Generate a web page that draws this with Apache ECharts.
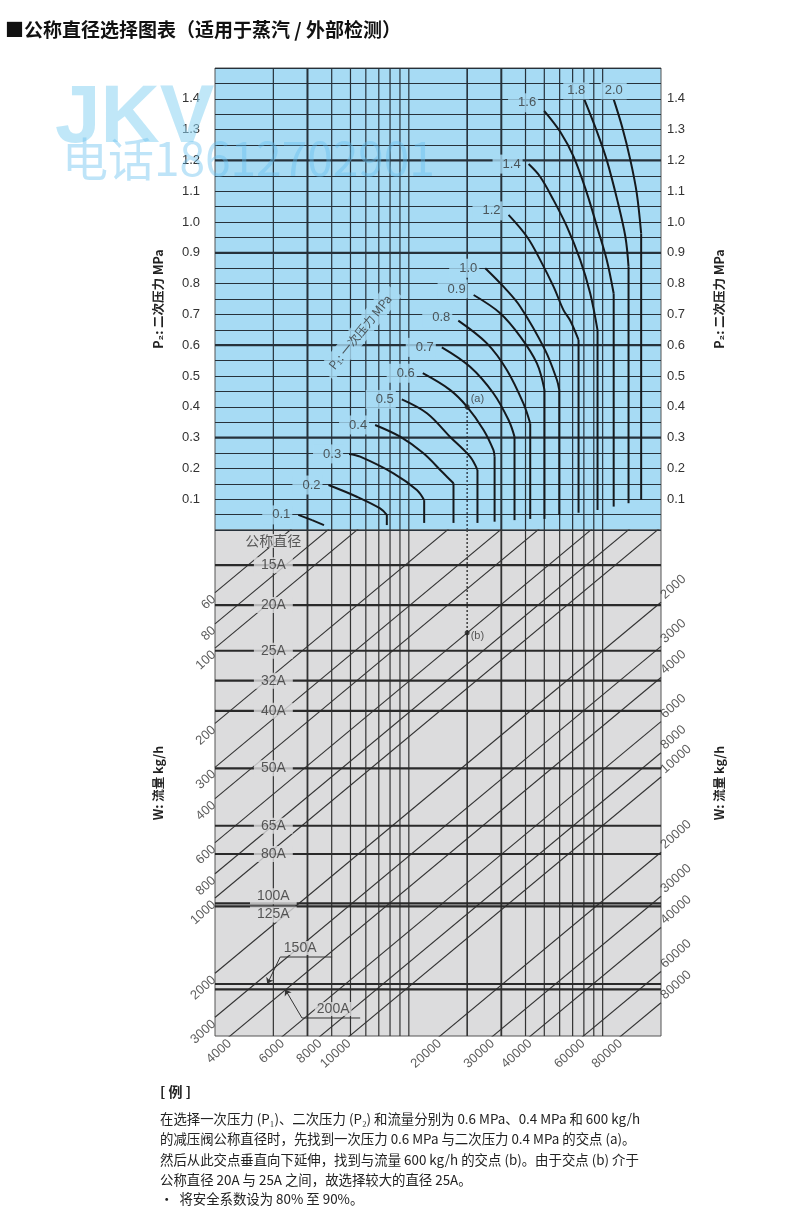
<!DOCTYPE html>
<html><head><meta charset="utf-8">
<script src="https://cdn.jsdelivr.net/npm/echarts@6/dist/echarts.min.js"></script>
<style>html,body{margin:0;padding:0;background:#fff}#c{width:800px;height:1216px}</style>
</head><body><div id="c"></div>
<script>
// ---------------- data ----------------
// x: flow-factor (log scale), upper y: P2 secondary pressure (MPa)
const kGridLines = [2,3,4,5,6,7,8,9,10,30,40,50,60,70,80,90,100];
const kThick = [3,30];
const p2TickLabels = [0.1,0.2,0.3,0.4,0.5,0.6,0.7,0.8,0.9,1.0,1.1,1.2,1.3,1.4];
const p2ThickLines = [0.3,0.6,0.9,1.2];

// P1 (primary pressure) curves: [flow-factor, P2]
const p1Labels = ['0.1','0.2','0.3','0.4','0.5','0.6','0.7','0.8','0.9','1.0','1.2','1.4','1.6','1.8','2.0'];
const curveP1_01 = [[2.69,0.049],[3.17,0.032],[3.65,0.016]];
const curveP1_02 = [[3.85,0.146],[5.39,0.108],[7.11,0.070],[7.70,0.049],[7.70,0.016]];
const curveP1_03 = [[4.92,0.247],[5.61,0.238],[8.33,0.184],[11.0,0.130],[12.0,0.097],[12.0,0.023]];
const curveP1_04 = [[6.70,0.341],[9.02,0.303],[11.9,0.249],[15.1,0.184],[17.0,0.152],[17.0,0.023]];
const curveP1_05 = [[9.20,0.424],[12.4,0.379],[16.3,0.303],[20.7,0.238],[22.6,0.195],[22.6,0.023]];
const curveP1_06 = [[11.8,0.509],[16.3,0.455],[20,0.400],[24.3,0.325],[27.3,0.260],[27.7,0.238],[27.7,0.027]];
const curveP1_07 = [[14.8,0.593],[20.7,0.530],[27.3,0.444],[32.7,0.357],[35.1,0.303],[35.1,0.032]];
const curveP1_08 = [[18.0,0.680],[25.3,0.606],[32.1,0.519],[39.0,0.411],[42.3,0.346],[42.3,0.036]];
const curveP1_09 = [[21.6,0.763],[29.6,0.704],[37.6,0.628],[45.8,0.541],[50.1,0.455],[50.1,0.036]];
const curveP1_10 = [[24.8,0.850],[30.8,0.790],[37.6,0.725],[50.5,0.584],[58.1,0.487],[59.7,0.455],[59.7,0.049]];
const curveP1_12 = [[32.7,1.023],[40.7,0.952],[47.6,0.877],[55.8,0.790],[62.8,0.714],[68.0,0.680],[75.1,0.617],[75.1,0.056]];
const curveP1_14 = [[41.5,1.188],[47.6,1.147],[55.8,1.071],[65.4,0.985],[76.6,0.877],[86.3,0.768],[94.1,0.649],[94.1,0.065]];
const curveP1_16 = [[49.9,1.361],[60.4,1.293],[70.8,1.212],[83.0,1.093],[93.5,0.985],[105,0.877],[114,0.768],[114,0.076]];
const curveP1_18 = [[80.4,1.398],[93.5,1.293],[105,1.201],[119,1.071],[131,0.952],[136,0.855],[136,0.087]];
const curveP1_20 = [[114,1.398],[126,1.309],[139,1.201],[150,1.093],[158,0.963],[158,0.097]];
const p1Curves = [curveP1_01,curveP1_02,curveP1_03,curveP1_04,curveP1_05,curveP1_06,curveP1_07,curveP1_08,
                  curveP1_09,curveP1_10,curveP1_12,curveP1_14,curveP1_16,curveP1_18,curveP1_20];
const p1AxisTitlePos = [5.61, 0.643];

// lower part: flow W (kg/h) diagonals, nominal diameters
const flowLines = [60,80,100,200,300,400,600,800,1000,2000,3000,4000,6000,8000,10000,20000,30000,40000,60000,80000];
const flowLeftLabels = [60,80,100,200,300,400,600,800,1000,2000,3000];
const flowBottomLabels = [4000,6000,8000,10000,20000,30000,40000,60000,80000];
const flowRightLabels = [2000,3000,4000,6000,8000,10000,20000,30000,40000,60000,80000];
const sizeNames = ['15A','20A','25A','32A','40A','50A','65A','80A','100A','125A','150A','200A'];
const sizeCapacity = [46.6,67.3,102.5,135.1,178.2,302.8,513.8,666.8,1050,1081,2208,2319];
const sizeHeaderPos = [2, 37.3];
const leader150 = [[4.02,1722],[2.17,1722],[1.86,2208]];
const leader200 = [[5.61,3020],[2.81,3020],[2.30,2319]];
const label150Pos = [2.75,1585];
const label200Pos = [4.07,2780];

// worked example
const exampleK = 20, exampleP2 = 0.4, exampleW = 600;

// axis ranges
const K_MIN = 1, K_MAX = 200;
const WL_MIN = 33.7, WL_MAX = 3565;
const FLOW_EXP = 0.645;

// ---------------- chart ----------------
const BLUE = '#a7dbf4', GRAY = '#dcdcdd', LINE = '#26313a';
const FONT = '"Liberation Sans", "Noto Sans CJK SC", sans-serif';
const CJK = '"Noto Sans CJK SC", "Liberation Sans", sans-serif';
function wLeft(W, K) { return W / Math.pow(K, FLOW_EXP); }

const series = [];
function addLine(xi, yi, pts, style, extra) {
  series.push(Object.assign({type:'line', xAxisIndex:xi, yAxisIndex:yi, data:pts, symbol:'none',
    silent:true, animation:false, clip:true, z:3, lineStyle:Object.assign({color:LINE,width:1.2}, style)}, extra||{}));
}
// upper vertical grid lines
kGridLines.forEach(k => addLine(0,0,[[k,0],[k,1.5]],{width:kThick.includes(k)?2:1.2}));
addLine(0,0,[[exampleK,exampleP2],[exampleK,1.5]],{width:1.6});
addLine(0,0,[[exampleK,0],[exampleK,exampleP2]],{width:1.6,type:[2,2],color:'#3a4a5a'});
// thick horizontal lines
p2ThickLines.forEach(v => addLine(0,0,[[K_MIN,v],[K_MAX,v]],{width:2.2}));
// P1 curves
p1Curves.forEach(c => {
  const n = c.length;
  addLine(0,0,c.slice(0,n-1),{width:2,color:'#15191d'},{smooth:0.35,z:5});
  addLine(0,0,c.slice(n-2),{width:2,color:'#15191d'},{z:5});
});
// lower vertical lines
kGridLines.forEach(k => addLine(1,2,[[k,WL_MIN],[k,WL_MAX]],{width:kThick.includes(k)?1.8:1.2,color:'#333'}));
const bY = wLeft(exampleW, exampleK);
addLine(1,2,[[exampleK,WL_MIN],[exampleK,bY]],{width:1.6,type:[2,2],color:'#444'});
addLine(1,2,[[exampleK,bY],[exampleK,WL_MAX]],{width:1.6,color:'#333'});
// diagonals (flow)
flowLines.forEach(W => addLine(1,2,[[K_MIN,wLeft(W,K_MIN)],[K_MAX,wLeft(W,K_MAX)]],{width:1.1,color:'#333'}));
// nominal diameter lines
sizeCapacity.forEach(c => addLine(1,2,[[K_MIN,c],[K_MAX,c]],{width:2.2,color:'#2a2a2a'},{z:4}));
// leaders (underline + arrow)
addLine(1,2,leader150.slice(0,2),{width:1,color:'#333'},{z:12});
addLine(1,2,leader200.slice(0,2),{width:1,color:'#333'},{z:12});
series.push({type:'lines', coordinateSystem:'cartesian2d', xAxisIndex:1, yAxisIndex:2, silent:true, z:12,
  symbol:['none','arrow'], symbolSize:6, lineStyle:{color:'#333', width:1, opacity:1},
  data:[{coords:leader150.slice(1)},{coords:leader200.slice(1)}]});

// P1 labels
const p1LabelTweaks = {'1.8':{position:'top',offset:[-8,6],padding:[2,4]}, '2.0':{position:'top',offset:[0,6],padding:[2,4]},
  '1.6':{offset:[0,-8]}, '0.9':{offset:[0,-6]}, '1.2':{offset:[0,-4]}, '0.8':{offset:[0,-3]}};
series.push({type:'scatter', xAxisIndex:0, yAxisIndex:0, z:10, silent:true, symbolSize:0, clip:false,
  data:p1Labels.map((n,i)=>({value:p1Curves[i][0], name:n, label:p1LabelTweaks[n]||{}})),
  label:{show:true, formatter:'{b}', position:'left', distance:6, fontSize:13, fontFamily:FONT, color:'#333',
    backgroundColor:BLUE, padding:[3,2,3,10]}});
series.push({type:'scatter', xAxisIndex:0, yAxisIndex:0, z:10, silent:true, symbolSize:0, clip:false,
  data:[{value:p1AxisTitlePos, name:'P₁: 一次压力 MPa'}],
  label:{show:true, formatter:'{b}', position:'inside', rotate:51, fontSize:12, fontFamily:CJK, color:'#333',
    backgroundColor:BLUE, padding:[4,8]}});
// example points
series.push({type:'scatter', xAxisIndex:0, yAxisIndex:0, z:11, silent:true, symbolSize:5, clip:false,
  itemStyle:{color:'#222'}, data:[{value:[exampleK,exampleP2], name:'(a)'}],
  label:{show:true, formatter:'{b}', position:'right', distance:1, offset:[0,-8], fontSize:11, fontFamily:FONT, color:'#333'}});
series.push({type:'scatter', xAxisIndex:1, yAxisIndex:2, z:11, silent:true, symbolSize:5, clip:false,
  itemStyle:{color:'#222'}, data:[{value:[exampleK,bY], name:'(b)'}],
  label:{show:true, formatter:'{b}', position:'right', distance:1, offset:[0,3], fontSize:11, fontFamily:FONT, color:'#333'}});

// diameter labels
const sizeTweaks = {'100A':{offset:[0,-7]}, '125A':{offset:[0,8]}};
const sizeLabelData = [];
sizeNames.forEach((n,i) => {
  if (n === '150A' || n === '200A') return;
  sizeLabelData.push({value:[2,sizeCapacity[i]], name:n, label:sizeTweaks[n]||{}});
});
sizeLabelData.push({value:sizeHeaderPos, name:'公称直径', label:{fontFamily:CJK, padding:[0,3]}});
sizeLabelData.push({value:label150Pos, name:'150A', label:{padding:[0,2]}});
sizeLabelData.push({value:label200Pos, name:'200A', label:{padding:[0,2]}});
series.push({type:'scatter', xAxisIndex:1, yAxisIndex:2, z:10, silent:true, symbolSize:0, clip:false,
  data:sizeLabelData,
  label:{show:true, formatter:'{b}', position:'inside', fontSize:14, fontFamily:FONT, color:'#333',
    backgroundColor:GRAY, padding:[1,7]}});

// flow labels
const flowLabelStyle = {show:true, formatter:'{b}', position:'inside', verticalAlign:'middle', rotate:42,
  fontSize:13, fontFamily:FONT, color:'#333'};
series.push({type:'scatter', xAxisIndex:1, yAxisIndex:2, z:10, silent:true, symbolSize:0, clip:false,
  data:flowLeftLabels.map(W=>({value:[K_MIN,wLeft(W,K_MIN)], name:String(W)})),
  label:Object.assign({}, flowLabelStyle, {align:'right', offset:[-4,3]})});
series.push({type:'scatter', xAxisIndex:1, yAxisIndex:2, z:10, silent:true, symbolSize:0, clip:false,
  data:flowBottomLabels.map(W=>({value:[Math.pow(W/WL_MAX,1/FLOW_EXP),WL_MAX], name:String(W)})),
  label:Object.assign({}, flowLabelStyle, {align:'right', offset:[-4,4]})});
series.push({type:'scatter', xAxisIndex:1, yAxisIndex:2, z:10, silent:true, symbolSize:0, clip:false,
  data:flowRightLabels.map(W=>({value:[K_MAX,wLeft(W,K_MAX)], name:String(W)})),
  label:Object.assign({}, flowLabelStyle, {align:'left', offset:[5,-3]})});

function p2Label(v) {
  const t = p2TickLabels.find(x => Math.abs(x - v) < 1e-6);
  return t === undefined ? '' : t.toFixed(1);
}
const nameStyle = {fontSize:12.5, fontWeight:'bold', color:'#222', fontFamily:CJK};
const NOTE_FONT = '13.4px "Noto Sans CJK SC"';

const option = {
  animation:false,
  backgroundColor:'#fff',
  grid:[
    {left:215, right:139, top:68, height:462, show:true, backgroundColor:BLUE, borderColor:'#555', borderWidth:1},
    {left:215, right:139, top:530, height:506, show:true, backgroundColor:GRAY, borderColor:'#555', borderWidth:1}
  ],
  xAxis:[
    {gridIndex:0, type:'log', logBase:10, min:K_MIN, max:K_MAX, show:false},
    {gridIndex:1, type:'log', logBase:10, min:K_MIN, max:K_MAX, show:false}
  ],
  yAxis:[
    {gridIndex:0, type:'value', min:0, max:1.5, interval:0.05, position:'left',
      axisLine:{show:false}, axisTick:{show:false},
      axisLabel:{margin:15, fontSize:13, color:'#333', fontFamily:FONT, formatter:p2Label},
      splitLine:{show:true, lineStyle:{color:LINE, width:1.2}},
      name:'P₂: 二次压力 MPa', nameLocation:'middle', nameGap:50, nameRotate:90, nameTextStyle:nameStyle},
    {gridIndex:0, type:'value', min:0, max:1.5, interval:0.05, position:'right',
      axisLine:{show:false}, axisTick:{show:false},
      axisLabel:{margin:6, fontSize:13, color:'#333', fontFamily:FONT, formatter:p2Label},
      splitLine:{show:false},
      name:'P₂: 二次压力 MPa', nameLocation:'middle', nameGap:52, nameRotate:90, nameTextStyle:nameStyle},
    {gridIndex:1, type:'log', logBase:10, min:WL_MIN, max:WL_MAX, inverse:true, position:'left',
      axisLine:{show:false}, axisTick:{show:false}, axisLabel:{show:false}, splitLine:{show:false},
      name:'W: 流量 kg/h', nameLocation:'middle', nameGap:50, nameRotate:90, nameTextStyle:nameStyle},
    {gridIndex:1, type:'log', logBase:10, min:WL_MIN, max:WL_MAX, inverse:true, position:'right',
      axisLine:{show:false}, axisTick:{show:false}, axisLabel:{show:false}, splitLine:{show:false},
      name:'W: 流量 kg/h', nameLocation:'middle', nameGap:52, nameRotate:90, nameTextStyle:nameStyle}
  ],
  graphic:[
    {type:'text', left:5, top:20, z:100, style:{text:'■公称直径选择图表（适用于蒸汽 / 外部检测）', font:'bold 19px "Noto Sans CJK SC"', fill:'#111'}},
    {type:'text', left:55, top:78, z:100, silent:true, style:{text:'JKV', font:'bold 82px "Liberation Sans"', fill:'rgba(140,212,242,0.55)'}},
    {type:'text', left:62, top:136, z:100, silent:true, style:{text:'电话18612702901', font:'46px "Noto Sans CJK SC"', fill:'rgba(100,190,238,0.42)'}},
    {type:'text', left:160, top:1085, style:{text:'[ 例 ]', font:'bold 14px "Noto Sans CJK SC"', fill:'#222'}},
    {type:'text', left:160, top:1112, style:{text:'在选择一次压力 (P₁)、二次压力 (P₂) 和流量分别为 0.6 MPa、0.4 MPa 和 600 kg/h', font:NOTE_FONT, fill:'#222'}},
    {type:'text', left:160, top:1132, style:{text:'的减压阀公称直径时，先找到一次压力 0.6 MPa 与二次压力 0.4 MPa 的交点 (a)。', font:NOTE_FONT, fill:'#222'}},
    {type:'text', left:160, top:1153, style:{text:'然后从此交点垂直向下延伸，找到与流量 600 kg/h 的交点 (b)。由于交点 (b) 介于', font:NOTE_FONT, fill:'#222'}},
    {type:'text', left:160, top:1173, style:{text:'公称直径 20A 与 25A 之间，故选择较大的直径 25A。', font:NOTE_FONT, fill:'#222'}},
    {type:'text', left:160, top:1192, style:{text:'·  将安全系数设为 80% 至 90%。', font:NOTE_FONT, fill:'#222'}}
  ],
  series:series
};
const chart = echarts.init(document.getElementById('c'), null, {renderer:'canvas'});
chart.setOption(option);
</script>
</body></html>
